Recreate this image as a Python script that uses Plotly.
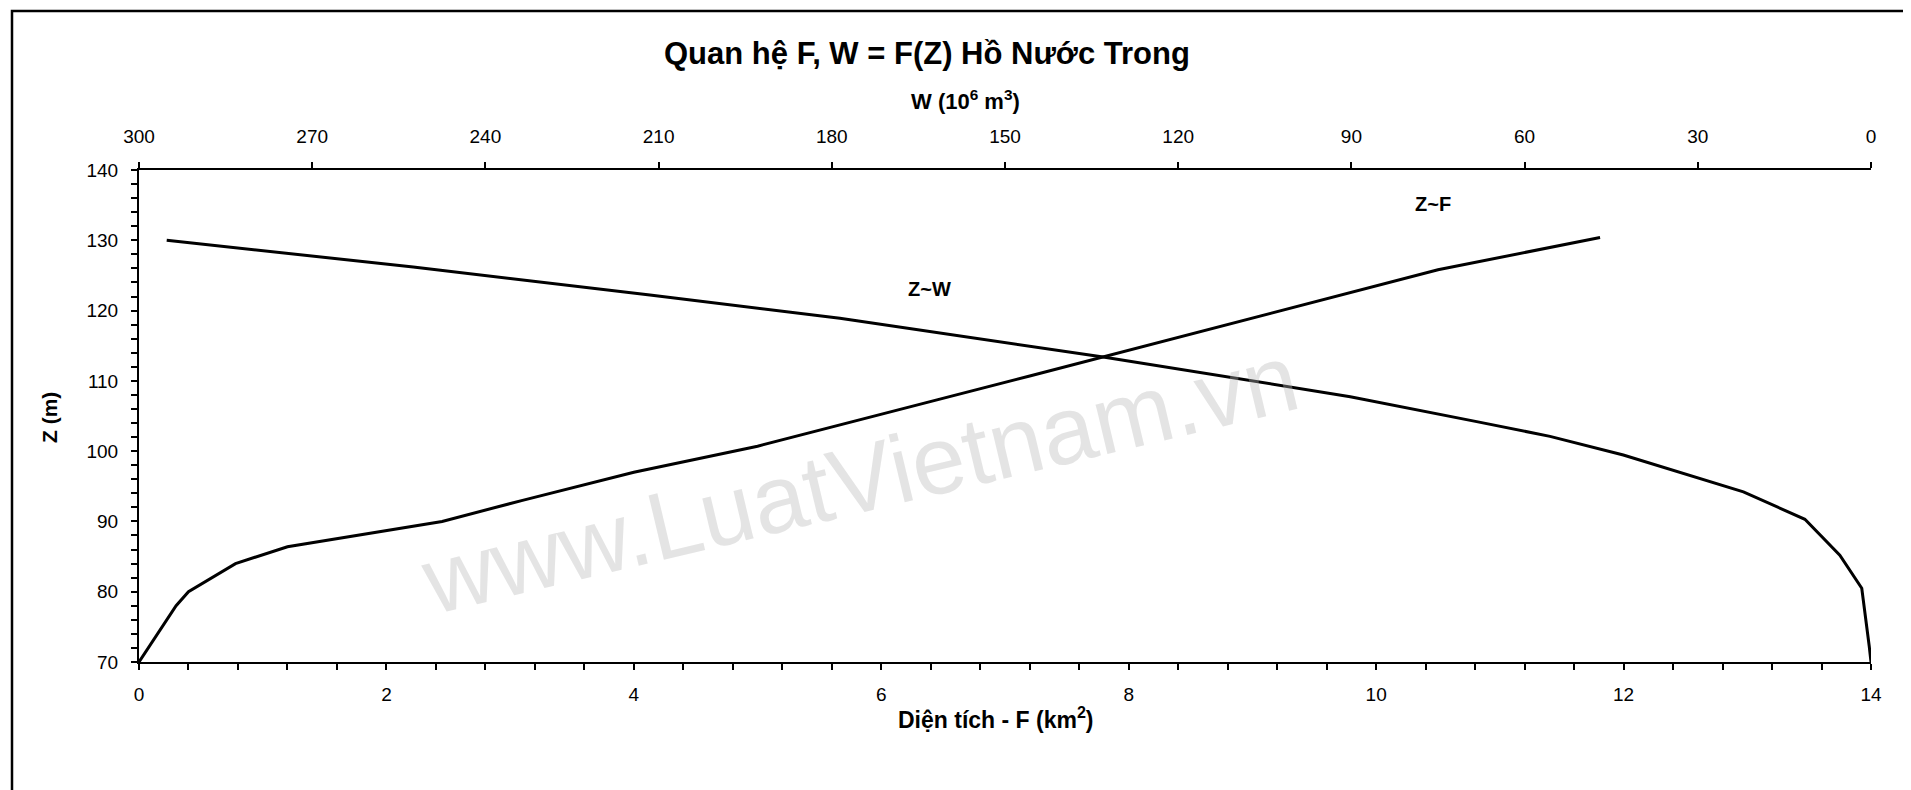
import plotly.graph_objects as go

# ---- data ----
# Z~F : area F (km2) vs water level Z (m)
F_area = [0, 0.3, 0.4, 0.78, 1.2, 2.45, 3.1, 4.0, 5.0, 5.67, 6.45, 7.2, 7.79, 9.87, 10.5, 11.81]
Z_F = [70, 78, 80, 84, 86.4, 90, 93, 97, 100.7, 103.7, 107.3, 110.7, 113.4, 122.9, 125.8, 130.4]

# Z~W : volume W (10^6 m3) vs water level Z (m)
W_vol = [0, 0.3, 1.6, 5.4, 11.45, 22.1, 42.9, 55.6, 68.3, 90.2, 133.0, 178.6, 211.5, 252.5, 295.2]
Z_W = [70, 72.2, 80.5, 85.2, 90.3, 94.2, 99.45, 102.1, 104.2, 107.75, 113.4, 118.9, 122.2, 126.2, 130.0]

F_ticks = [0, 2, 4, 6, 8, 10, 12, 14]
W_ticks = [300, 270, 240, 210, 180, 150, 120, 90, 60, 30, 0]
Z_ticks = [70, 80, 90, 100, 110, 120, 130, 140]

FONT = "Arial, 'Liberation Sans', sans-serif"

fig = go.Figure()
fig.add_trace(go.Scatter(x=F_area, y=Z_F, mode="lines", name="Z~F",
                         line=dict(color="black", width=3), xaxis="x", yaxis="y"))
fig.add_trace(go.Scatter(x=W_vol, y=Z_W, mode="lines", name="Z~W",
                         line=dict(color="black", width=3), xaxis="x2", yaxis="y"))

OFF = 8  # page body margin
W_fig, H_fig = 1903, 782
# plot area in screen px: x 139..1871, y 170..662
L, T = 139 - OFF, 170 - OFF
R = W_fig - (1871 - OFF)
B = H_fig - (662 - OFF)
pw = W_fig - L - R
ph = H_fig - T - B

def px(x):
    return (x - OFF - L) / pw

def py(y):
    return (H_fig - B - (y - OFF)) / ph

TICKFONT = dict(size=19, family=FONT, color="black")

fig.update_layout(
    width=W_fig, height=H_fig,
    margin=dict(l=L, r=R, t=T, b=B, pad=0),
    paper_bgcolor="white", plot_bgcolor="white",
    showlegend=False,
    font=dict(family=FONT, color="black", size=19),
    xaxis=dict(range=[0, 14], tickvals=F_ticks, showline=True, linecolor="black", linewidth=2,
               ticks="outside", ticklen=6, tickwidth=1.5, tickcolor="black",
               minor=dict(dtick=0.4, ticks="outside", ticklen=6, tickwidth=1.5, tickcolor="black"),
               showgrid=False, zeroline=False, mirror=False,
               tickfont=TICKFONT, ticklabelstandoff=8),
    xaxis2=dict(range=[300, 0], tickvals=W_ticks, overlaying="x", side="top", anchor="y",
                showline=True, linecolor="black", linewidth=2,
                ticks="outside", ticklen=6, tickwidth=1.5, tickcolor="black",
                showgrid=False, zeroline=False, tickfont=TICKFONT, ticklabelstandoff=11),
    yaxis=dict(range=[70, 140], tickvals=Z_ticks, showline=True, linecolor="black", linewidth=2,
               ticks="outside", ticklen=6, tickwidth=1.5, tickcolor="black",
               minor=dict(dtick=2, ticks="outside", ticklen=6, tickwidth=1.5, tickcolor="black"),
               showgrid=False, zeroline=False, tickfont=TICKFONT, ticklabelstandoff=9),
)

annotations = [
    dict(text="<b>Quan hệ F, W = F(Z) Hồ Nước Trong</b>", x=px(927), y=py(54), xref="paper", yref="paper",
         showarrow=False, font=dict(size=31, family=FONT), xanchor="center", yanchor="middle"),
    dict(text="<b>W (10<sup>6</sup> m<sup>3</sup>)</b>", x=px(965), y=py(100), xref="paper", yref="paper",
         showarrow=False, font=dict(size=22, family=FONT), xanchor="center", yanchor="middle"),
    dict(text="<b>Diện tích - F (km<sup>2</sup>)</b>", x=px(996), y=py(718), xref="paper", yref="paper",
         showarrow=False, font=dict(size=23, family=FONT), xanchor="center", yanchor="middle"),
    dict(text="<b>Z (m)</b>", x=px(49), y=py(418), xref="paper", yref="paper", textangle=-90,
         showarrow=False, font=dict(size=21, family=FONT), xanchor="center", yanchor="middle"),
    dict(text="<b>Z~W</b>", x=6.39, y=123.1, xref="x", yref="y",
         showarrow=False, font=dict(size=20, family=FONT), xanchor="center", yanchor="middle"),
    dict(text="<b>Z~F</b>", x=10.46, y=135.2, xref="x", yref="y",
         showarrow=False, font=dict(size=20, family=FONT), xanchor="center", yanchor="middle"),
    dict(text="www.LuatVietnam.vn", x=px(860), y=py(478), xref="paper", yref="paper", textangle=-13.4,
         showarrow=False, font=dict(size=96, family=FONT, color="rgba(185,185,185,0.38)"),
         xanchor="center", yanchor="middle"),
]
fig.update_layout(annotations=annotations)

fig.add_shape(type="rect", xref="paper", yref="paper",
              x0=px(12), x1=px(1905), y0=py(11), y1=py(805),
              line=dict(color="black", width=2.5), fillcolor="rgba(0,0,0,0)", layer="above")

fig.write_html("out.html")
